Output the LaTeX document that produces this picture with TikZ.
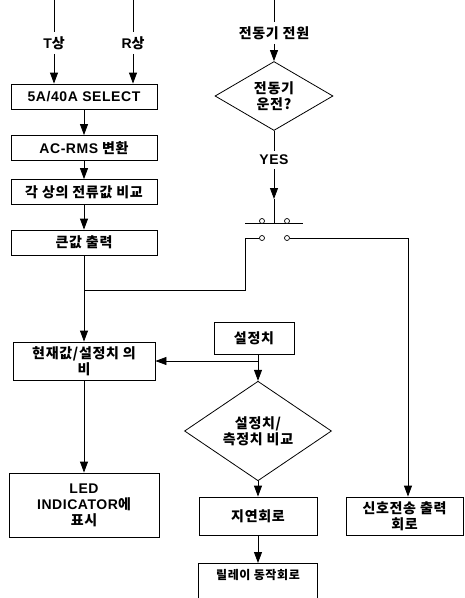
\documentclass[tikz,border=0pt]{standalone}
\usepackage{fontspec}
\setmainfont{Liberation Sans}
\newfontfamily\hangul{Noto Sans CJK KR}[LetterSpace=5]
\newfontfamily\latn{Liberation Sans}[LetterSpace=4]
\usetikzlibrary{arrows.meta,shapes.geometric}
\tikzstyle{block}=[draw,rectangle,line width=0.8pt,align=center,inner sep=1pt,font=\fontsize{14}{16}\selectfont\hangul\bfseries]
\tikzstyle{decision}=[draw,diamond,line width=0.8pt,align=center,inner sep=0pt,font=\fontsize{14}{16}\selectfont\hangul\bfseries]
\tikzstyle{tag}=[inner sep=4pt,font=\fontsize{14}{16}\selectfont\hangul\bfseries]
\tikzstyle{line}=[draw,line width=0.8pt,-{Triangle[length=11pt,width=8pt]}]
\tikzstyle{wire}=[draw,line width=0.8pt]
\tikzstyle{contact}=[circle,draw,fill=white,inner sep=0pt,minimum size=5pt,line width=0.7pt]

\begin{document}
\begin{tikzpicture}[x=1pt,y=-1pt]
\useasboundingbox (0,0) rectangle (464,598);
% First we draw the left column
\foreach \pos/\name/\txt in {{(84,96.5)/select/{\latn 5A/40A SELECT}}, {(84,148)/rms/{{\latn AC-RMS} 변환}}, {(84,192)/cmp/{각 상의 전류값 비교}}, {(84,242.5)/max/{큰값 출력}}}
\node[block, minimum width=146, minimum height=25] (\name) at \pos {\txt};
\node[block, minimum width=142, minimum height=38] (ratio) at (84,361) {현재값/설정치 의\\비};
\node[block, minimum width=150, minimum height=64] (led) at (84,505) {{\latn LED}\\{\latn INDICATOR}에\\표시};

% Then the middle and right column
\node[decision, minimum width=118, minimum height=52] (run) at (274,96) {전동기\\운전?};
\node[block, minimum width=80, minimum height=32] (set) at (254,338) {설정치};
\node[decision, minimum width=147, minimum height=63] (comp) at (258,431) {설정치/\\측정치 비교};
\node[block, minimum width=118, minimum height=38] (delay) at (258,516) {지연회로};
\node[block, minimum width=119, text height=15pt, text depth=26pt, anchor=north, font=\fontsize{12}{14}\selectfont\hangul\bfseries] (relay) at (258,563) {릴레이 동작회로};
\node[block, minimum width=117, minimum height=38] (signal) at (404.5,516) {신호전송 출력\\회로};

% Inputs and their labels
\foreach \pos/\name/\txt in {{(54,43)/tlab/{{\latn T}상}}, {(133,43)/rlab/{{\latn R}상}}, {(274,33)/plab/전동기 전원}, {(274,160)/yes/{\latn YES}}}
\node[tag] (\name) at \pos {\txt};
\foreach \pos/\name in {{(54,0)/tin}, {(133,0)/rin}, {(274,0)/pin}, {(274,199)/arrtip}, {(274,223)/swtop}, {(245,223)/barl}, {(303,223)/barr}, {(245,238)/bend}, {(408,238)/rbend}, {(84,290)/junc}, {(258,361)/sjunc}}
\path \pos coordinate (\name);

% Switch contacts
\path[wire] (barl) -- (barr);
\foreach \pos/\name in {{(262,221)/a1}, {(287,221)/a2}, {(262,238)/b1}, {(287,238)/b2}}
\node[contact] (\name) at \pos {};

% Connect everything
\path[wire] (tin) -- (tlab);
\path[line] (tlab) -- (tlab |- select.north);
\path[wire] (rin) -- (rlab);
\path[line] (rlab) -- (rlab |- select.north);
\foreach \source/\dest in {select/rms, rms/cmp, cmp/max, ratio/led, plab/run, comp/delay}
\path[line] (\source) -- (\dest);
\path[line] (delay) -- (relay.north);
\path[wire] (pin) -- (plab);
\path[wire] (run) -- (yes);
\path[line] (yes) -- (arrtip);
\path[wire] (arrtip) -- (swtop);
\path[wire] (max) -- (junc);
\path[line] (junc) -- (ratio);
\path[wire] (b1) -- (bend) |- (junc);
\path[line] (b2) -- (rbend) -- (rbend |- signal.north);
\path[wire] (sjunc |- set.south) -- (sjunc);
\path[line] (sjunc) -- (ratio);
\path[line] (sjunc) -- (comp);
\end{tikzpicture}
\end{document}
